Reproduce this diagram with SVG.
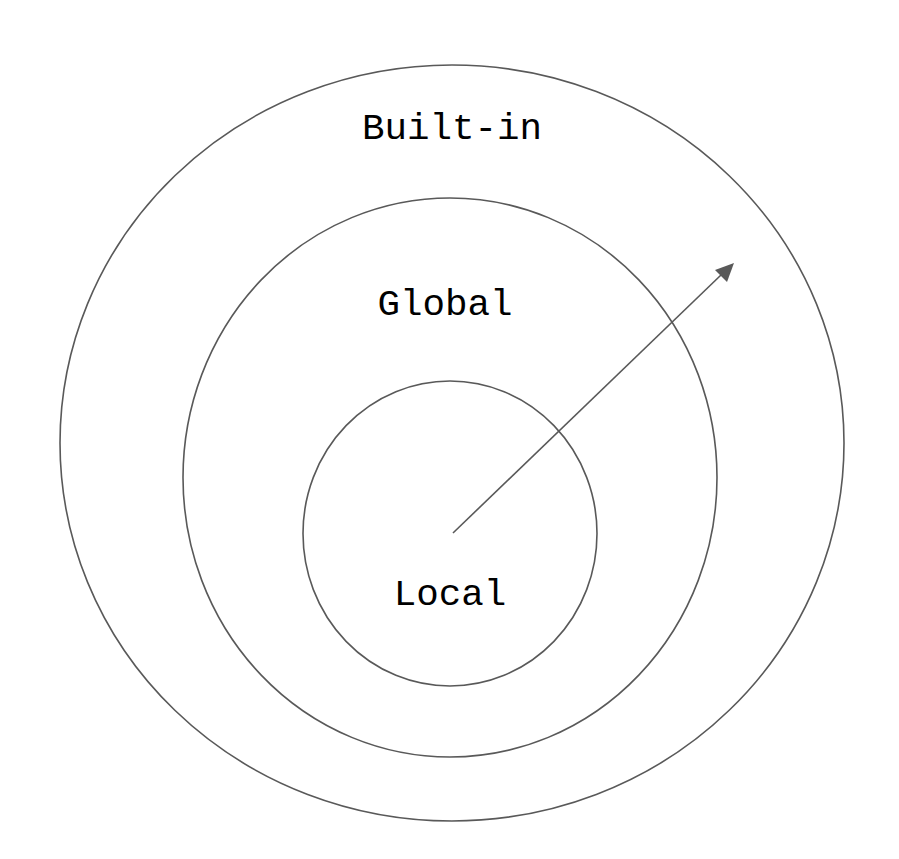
<svg xmlns="http://www.w3.org/2000/svg" width="899" height="859" viewBox="0 0 899 859">
<style>
.c{fill:none;stroke:#595959;stroke-width:1.6}
.t{font-family:"Liberation Mono",monospace;font-size:37.5px;fill:#000;text-anchor:middle}
</style>
<rect width="899" height="859" fill="#fff"/>
<g id="builtin"><ellipse class="c" cx="452" cy="443" rx="392" ry="378"/><text class="t" x="452" y="139">Built-in</text></g>
<g id="global"><ellipse class="c" cx="450" cy="477.5" rx="267" ry="279.5"/><text class="t" x="445" y="315">Global</text></g>
<g id="local"><ellipse class="c" cx="450" cy="533.5" rx="147" ry="152.5"/><text class="t" x="450" y="605">Local</text></g>
<g id="connectors">
<line x1="453" y1="533" x2="721" y2="275" stroke="#595959" stroke-width="1.6"/>
<polygon points="734,263 727,282 715,270" fill="#595959"/>
</g>
</svg>
